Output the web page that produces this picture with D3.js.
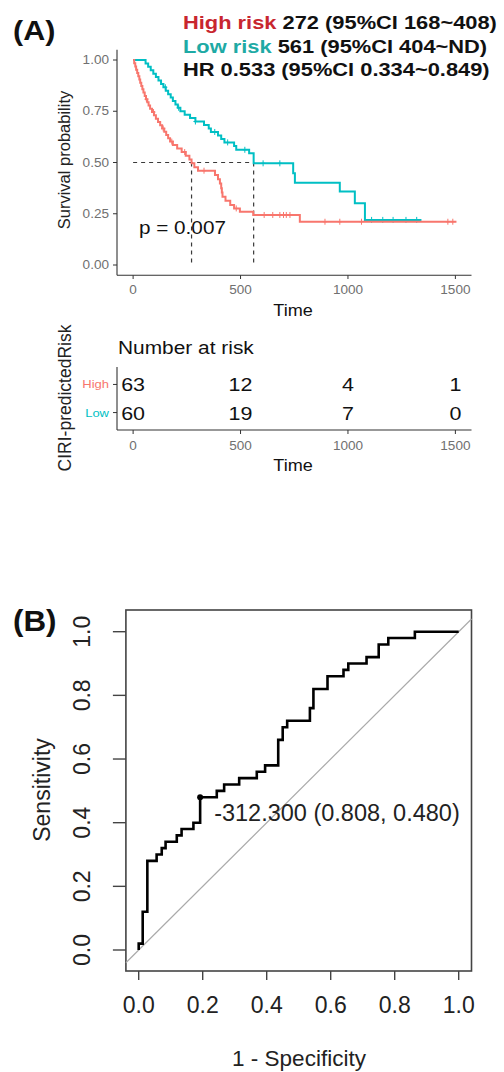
<!DOCTYPE html>
<html><head><meta charset="utf-8">
<script src="https://cdn.jsdelivr.net/npm/d3@7"></script>
<style>body{margin:0;background:#fff}svg{display:block}text{font-family:"Liberation Sans",Arial,sans-serif}</style>
</head><body>
<script>
// ---------- Data ----------
const kmTicksX = [0, 500, 1000, 1500];
const kmTicksY = [0, 0.25, 0.5, 0.75, 1.0];
const kmTickLabelsY = ["0.00", "0.25", "0.50", "0.75", "1.00"];
const highTimes = [0,5,10,14,19,24,29,33,38,43,48,54,60,66,72,79,88,97,106,116,126,135,145,154,163,172,185,205,226,245,262,272,285,302,381,395,404,410,413,416,430,452,470,497,559,776,1505];
const highSurv = [1,.984,.968,.952,.937,.921,.905,.889,.873,.857,.841,.825,.809,.794,.778,.762,.746,.730,.714,.698,.682,.666,.650,.634,.618,.602,.585,.568,.551,.533,.515,.496,.477,.460,.439,.418,.397,.375,.354,.333,.313,.293,.276,.260,.244,.211,.211];
const lowTimes = [0,58,70,82,94,106,118,130,141,152,163,175,185,197,208,220,240,265,290,330,352,362,395,410,425,470,480,540,561,745,753,962,1032,1079,1342];
const lowSurv = [1,.983,.967,.950,.933,.917,.900,.883,.867,.850,.833,.817,.800,.783,.767,.750,.733,.717,.700,.683,.666,.649,.632,.615,.598,.580,.562,.545,.496,.447,.401,.358,.301,.220,.220];
const highCensor = [62,95,140,180,240,330,480,610,650,683,700,713,730,893,962,1063,1465,1488];
const lowCensor = [150,212,290,380,440,520,605,683,1110,1162,1210,1270,1320];
const medianHigh = 272, medianLow = 561;
const pText = "p = 0.007";
const riskGroups = ["High", "Low"];
const riskTimes = [0, 500, 1000, 1500];
const riskHigh = [63, 12, 4, 1];
const riskLow = [60, 19, 7, 0];
const headerLines = [
  [["High risk", "hi"], [" 272 (95%CI 168~408)", "k"]],
  [["Low risk", "lo"], [" 561 (95%CI 404~ND)", "k"]],
  [["HR 0.533 (95%CI 0.334~0.849)", "k"]]
];
const rocFpr = [0,0,0.0125,0.027,0.056,0.072,0.084,0.119,0.134,0.171,0.192,0.244,0.267,0.314,0.369,0.395,0.436,0.45,0.464,0.535,0.546,0.59,0.64,0.655,0.712,0.75,0.78,0.863,1.0];
const rocTpr = [0,0.02,0.12,0.28,0.30,0.32,0.34,0.36,0.38,0.40,0.48,0.50,0.52,0.54,0.56,0.58,0.66,0.70,0.72,0.76,0.82,0.86,0.88,0.90,0.92,0.96,0.98,1.0,1.0];
const rocTicks = [0, 0.2, 0.4, 0.6, 0.8, 1.0];
const bestPoint = {fpr: 0.192, tpr: 0.48, label: "-312.300 (0.808, 0.480)"};

// ---------- Setup ----------
const W = 504, H = 1072;
const svg = d3.select("body").append("svg").attr("width", W).attr("height", H);
const SX = 1.13;
const RED = "#F8766D", TEAL = "#00BFC4";
const colMap = {hi: "#c8262f", lo: "#1eaaa5", k: "#111"};

function stext(g, x, y, str, o = {}) {
  const t = g.append("text")
    .attr("transform", `translate(${x},${y}) scale(${o.sx || SX},1)`)
    .attr("font-size", o.size || 12)
    .attr("fill", o.fill || "#111")
    .attr("text-anchor", o.anchor || "start");
  if (o.bold) t.attr("font-weight", "bold");
  t.text(str);
  return t;
}

// ---------- Panel A: KM ----------
const gA = svg.append("g");
stext(gA, 13, 40, "(A)", {size: 27, bold: true, sx: 1.13});
headerLines.forEach((line, i) => {
  const t = gA.append("text")
    .attr("transform", `translate(183,${29 + i * 23.5}) scale(1.15,1)`)
    .attr("font-size", 19).attr("font-weight", "bold");
  line.forEach(([s, c]) => t.append("tspan").attr("fill", colMap[c]).text(s));
});

const x = d3.scaleLinear().domain([-75, 1575]).range([117, 471.5]);
const y = d3.scaleLinear().domain([-0.05, 1.05]).range([275.25, 49.75]);

// axes
const axCol = "#333";
gA.append("line").attr("x1", 117).attr("x2", 117).attr("y1", y.range()[1]).attr("y2", y.range()[0]).attr("stroke", axCol).attr("stroke-width", 1.1);
gA.append("line").attr("x1", 117).attr("x2", x.range()[1]).attr("y1", 275.25).attr("y2", 275.25).attr("stroke", axCol).attr("stroke-width", 1.1);
kmTicksY.forEach((v, i) => {
  gA.append("line").attr("x1", 113).attr("x2", 117).attr("y1", y(v)).attr("y2", y(v)).attr("stroke", axCol);
  stext(gA, 109, y(v) + 4, kmTickLabelsY[i], {size: 12, fill: "#707070", anchor: "end"});
});
kmTicksX.forEach(v => {
  gA.append("line").attr("x1", x(v)).attr("x2", x(v)).attr("y1", 275.25).attr("y2", 279).attr("stroke", axCol);
  stext(gA, x(v), 294, String(v), {size: 12, fill: "#707070", anchor: "middle"});
});
stext(gA, 293, 316, "Time", {size: 16, anchor: "middle"});
gA.append("text").attr("transform", "translate(70,160) rotate(-90)")
  .attr("font-size", 16.5).attr("text-anchor", "middle").attr("fill", "#222").text("Survival probability");

// median dashed lines
const dash = {stroke: "#3a3a3a", "stroke-width": 1.2, "stroke-dasharray": "4,4"};
function dline(x1, y1, x2, y2) {
  const l = gA.append("line").attr("x1", x1).attr("y1", y1).attr("x2", x2).attr("y2", y2);
  Object.entries(dash).forEach(([k, v]) => l.attr(k, v));
}
dline(x(0), y(0.5), x(medianLow), y(0.5));
dline(x(medianHigh), y(0.5), x(medianHigh), y(0));
dline(x(medianLow), y(0.5), x(medianLow), y(0));

// curves
const stepLine = d3.line().x(d => x(d[0])).y(d => y(d[1])).curve(d3.curveStepAfter);
function survAt(times, surv, t) {
  const i = d3.bisectRight(times, t) - 1;
  return surv[Math.max(0, i)];
}
function drawKM(times, surv, cens, col) {
  gA.append("path").datum(times.map((t, i) => [t, surv[i]]))
    .attr("d", stepLine).attr("fill", "none").attr("stroke", col).attr("stroke-width", 2);
  cens.forEach(t => {
    const cx = x(t), cy = y(survAt(times, surv, t));
    gA.append("line").attr("x1", cx).attr("x2", cx).attr("y1", cy - 3).attr("y2", cy + 3).attr("stroke", col).attr("stroke-width", 1);
    gA.append("line").attr("x1", cx - 2).attr("x2", cx + 2).attr("y1", cy).attr("y2", cy).attr("stroke", col).attr("stroke-width", 1);
  });
}
drawKM(lowTimes, lowSurv, lowCensor, TEAL);
drawKM(highTimes, highSurv, highCensor, RED);
stext(gA, 139, 234, pText, {size: 18.5, anchor: "start", sx: 1.12});

// risk table
const gR = svg.append("g");
stext(gR, 118, 354, "Number at risk", {size: 18.5});
const ry = d3.scalePoint().domain(riskGroups).range([367, 430]).padding(0.62);
gR.append("line").attr("x1", 117).attr("x2", 117).attr("y1", 367).attr("y2", 430).attr("stroke", axCol).attr("stroke-width", 1.1);
gR.append("line").attr("x1", 117).attr("x2", x.range()[1]).attr("y1", 430).attr("y2", 430).attr("stroke", axCol).attr("stroke-width", 1.1);
riskGroups.forEach((gname, gi) => {
  const col = gi === 0 ? RED : TEAL;
  gR.append("line").attr("x1", 113).attr("x2", 117).attr("y1", ry(gname)).attr("y2", ry(gname)).attr("stroke", axCol);
  stext(gR, 109, ry(gname) + 4, gname, {size: 11.5, fill: col, anchor: "end"});
  const vals = gi === 0 ? riskHigh : riskLow;
  riskTimes.forEach((t, i) => {
    stext(gR, x(t), ry(gname) + 7, String(vals[i]), {size: 19, anchor: "middle"});
  });
});
kmTicksX.forEach(v => {
  gR.append("line").attr("x1", x(v)).attr("x2", x(v)).attr("y1", 430).attr("y2", 434).attr("stroke", axCol);
  stext(gR, x(v), 450, String(v), {size: 12, fill: "#707070", anchor: "middle"});
});
stext(gR, 293, 471, "Time", {size: 16, anchor: "middle"});
gR.append("text").attr("transform", "translate(71,398) rotate(-90)")
  .attr("font-size", 17.5).attr("text-anchor", "middle").attr("fill", "#222").text("CIRI-predictedRisk");

// ---------- Panel B: ROC ----------
const gB = svg.append("g");
stext(gB, 13, 631, "(B)", {size: 29, bold: true, sx: 1.08});
const rx = d3.scaleLinear().domain([-0.04, 1.04]).range([125.9, 471.5]);
const rY = d3.scaleLinear().domain([0, 1]).range([950, 631.7]);
const boxTop = 610, boxBot = 971;
gB.append("rect").attr("x", rx(-0.04)).attr("y", boxTop).attr("width", rx(1.04) - rx(-0.04)).attr("height", boxBot - boxTop)
  .attr("fill", "none").attr("stroke", "#444").attr("stroke-width", 1.6);
// diagonal
gB.append("line").attr("x1", rx(-0.04)).attr("y1", rY(-0.04)).attr("x2", rx(1.04)).attr("y2", rY(1.04))
  .attr("stroke", "#aaa").attr("stroke-width", 1.2);
rocTicks.forEach(v => {
  gB.append("line").attr("x1", rx(-0.04) - 13).attr("x2", rx(-0.04)).attr("y1", rY(v)).attr("y2", rY(v)).attr("stroke", "#444").attr("stroke-width", 1.4);
  gB.append("text").attr("transform", `translate(90,${rY(v)}) rotate(-90)`).attr("font-size", 23)
    .attr("text-anchor", "middle").attr("fill", "#222").text(v.toFixed(1));
  gB.append("line").attr("x1", rx(v)).attr("x2", rx(v)).attr("y1", boxBot).attr("y2", boxBot + 9).attr("stroke", "#444").attr("stroke-width", 1.4);
  gB.append("text").attr("x", rx(v)).attr("y", 1013).attr("font-size", 23)
    .attr("text-anchor", "middle").attr("fill", "#222").text(v.toFixed(1));
});
gB.append("text").attr("x", 299).attr("y", 1066).attr("font-size", 22.5).attr("text-anchor", "middle").attr("fill", "#222").text("1 - Specificity");
gB.append("text").attr("transform", "translate(50,790) rotate(-90)").attr("font-size", 23).attr("text-anchor", "middle").attr("fill", "#222").text("Sensitivity");

const rocLine = d3.line().x(d => rx(d[0])).y(d => rY(d[1])).curve(d3.curveStepAfter);
gB.append("path").datum(rocFpr.map((f, i) => [f, rocTpr[i]]))
  .attr("d", rocLine).attr("fill", "none").attr("stroke", "#000").attr("stroke-width", 2.6);
gB.append("circle").attr("cx", rx(bestPoint.fpr)).attr("cy", rY(bestPoint.tpr)).attr("r", 3).attr("fill", "#000");
gB.append("text").attr("x", rx(bestPoint.fpr) + 14).attr("y", rY(bestPoint.tpr) + 24).attr("font-size", 23.5)
  .attr("fill", "#222").text(bestPoint.label);
</script>
</body></html>
